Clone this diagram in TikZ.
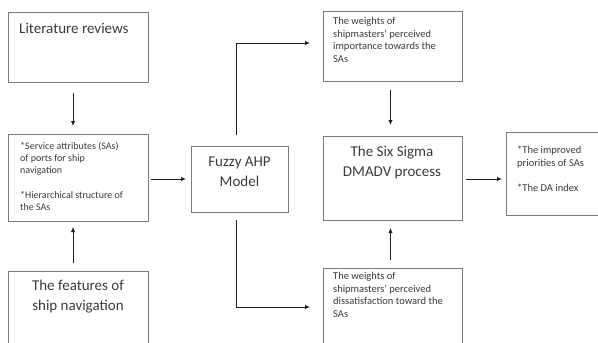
\documentclass[tikz,border=0pt]{standalone}
\usepackage{fontspec}
\setmainfont{Carlito}
\usetikzlibrary{arrows.meta}
\definecolor{txt}{HTML}{3A3A3A}
\definecolor{edgec}{HTML}{7A7A7A}
\definecolor{arrowc}{HTML}{1E1E1E}
\begin{document}
\begin{tikzpicture}[x=1pt,y=-1pt,
  box/.style={draw=edgec, line width=0.9pt, inner sep=0pt, outer sep=0pt},
  smalltxt/.style={text=txt, inner sep=0pt, align=left, anchor=north west,
    font=\fontsize{10.5}{12.7}\selectfont},
  bigtxt/.style={text=txt, inner sep=0pt, align=center,
    font=\fontsize{15}{20}\selectfont},
  arr/.style={draw=arrowc, line width=0.9pt, -{Latex[length=5pt,width=4.5pt]}}]
\useasboundingbox (0,0) rectangle (598,343);
\clip (0,0) rectangle (598,343);
% boxes
\node[box, minimum width=140pt, minimum height=70pt] (lit) at (78,47) {};
\node[box, minimum width=140pt, minimum height=87pt] (sas) at (78,177.5) {};
\node[box, minimum width=140pt, minimum height=80pt] (feat) at (78,311) {};
\node[box, minimum width=97pt, minimum height=66pt] (fuzzy) at (239.5,179) {};
\node[box, minimum width=139pt, minimum height=70pt] (imp) at (392.5,46.5) {};
\node[box, minimum width=139pt, minimum height=84pt] (six) at (392.5,178) {};
\node[box, minimum width=139pt, minimum height=80pt] (dis) at (392.5,308) {};
\node[box, minimum width=99pt, minimum height=83pt] (out) at (555.5,173.5) {};
% texts
\node[text=txt, inner sep=0pt, anchor=base west, font=\fontsize{15}{20}\selectfont]
  (littxt) at (19,33) {Literature reviews};
\node[smalltxt, font=\fontsize{10}{12.3}\selectfont] (sastxt) at (20,141.5)
  {*Service attributes (SAs)\\ of ports for ship\\ navigation\\[12.3pt]
   *Hierarchical structure of\\ the SAs};
\node[bigtxt] (feattxt) at (78,296.5) {The features of\\ ship navigation};
\node[bigtxt] (fuzzytxt) at (239.5,171.5) {Fuzzy AHP\\ Model};
\node[smalltxt] (imptxt) at (333,17) {The weights of\\ shipmasters' perceived\\ importance towards the\\ SAs};
\node[bigtxt] (sixtxt) at (392,162) {The Six Sigma\\ DMADV process};
\node[smalltxt] (distxt) at (333,272) {The weights of\\ shipmasters' perceived\\ dissatisfaction toward the\\ SAs};
\node[smalltxt] (outtxt) at (517,146)
  {*The improved\\ priorities of SAs\\[12.7pt] *The DA index};
% connectors
\draw[arr, shorten <=11pt, shorten >=8pt] ([xshift=-5pt]lit.south) -- ([xshift=-5pt]sas.north);
\draw[arr, shorten <=8pt, shorten >=6pt] ([xshift=-5pt]feat.north) -- ([xshift=-5pt]sas.south);
\draw[arr, shorten <=3pt, shorten >=5pt] ([yshift=-1.5pt]sas.east) -- (fuzzy.west);
\draw[arr, shorten <=11pt, shorten >=13pt] ([xshift=-3.5pt]fuzzy.north) |- ([yshift=3.5pt]imp.west);
\draw[arr, shorten <=8pt, shorten >=13pt] ([xshift=-3.5pt]fuzzy.south) |- ([yshift=1pt]dis.west);
\draw[arr, shorten <=8pt, shorten >=11pt] ([xshift=-2pt]imp.south) -- ([xshift=-2pt]six.north);
\draw[arr, shorten <=8pt, shorten >=8pt] ([xshift=-2pt]dis.north) -- ([xshift=-2pt]six.south);
\draw[arr, shorten <=4pt, shorten >=4pt] ([yshift=-1pt]six.east) -- ([yshift=-5.5pt]out.west);
\end{tikzpicture}
\end{document}
